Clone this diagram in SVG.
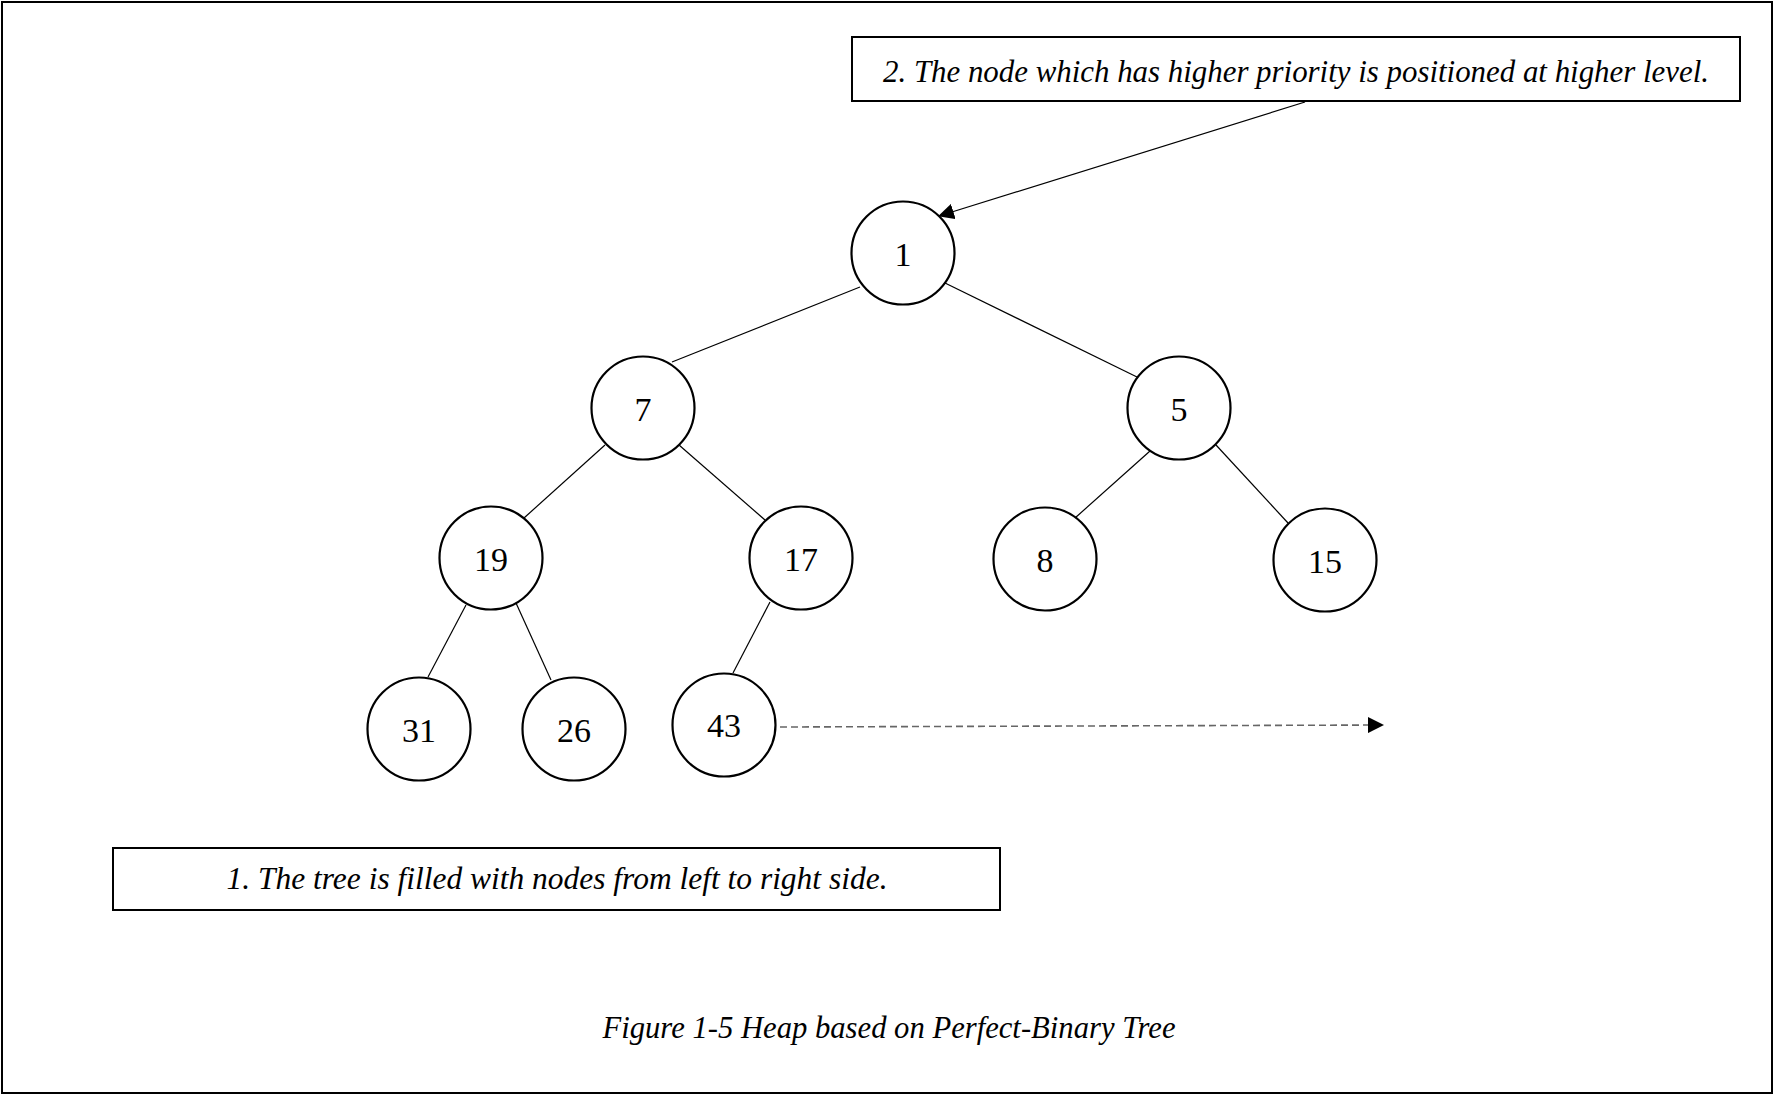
<svg xmlns="http://www.w3.org/2000/svg" width="1774" height="1096" viewBox="0 0 1774 1096">
<style>
.node circle{fill:#fff;stroke:#000;stroke-width:2.2}
.node text{font-family:"Liberation Serif","Times New Roman",serif;font-size:34px;text-anchor:middle}
.box rect{fill:#fff;stroke:#000;stroke-width:2}
.lbl{font-family:"Liberation Serif","Times New Roman",serif;font-style:italic;font-size:31px;text-anchor:middle}
.edge{stroke:#000;stroke-width:1.2;fill:none}
.dash{stroke:#666;stroke-width:1.6;stroke-dasharray:7,4;fill:none}
</style>
<defs>
<marker id="ah" markerWidth="16" markerHeight="16" refX="15" refY="8" orient="auto" markerUnits="userSpaceOnUse">
<path d="M0,0 L16,8 L0,16 Z" fill="#000"/>
</marker>
</defs>
<rect x="2" y="2" width="1770" height="1091" fill="#fff" stroke="#000" stroke-width="2"/>
<g id="connectors">
<line class="edge" x1="1305" y1="102" x2="939" y2="216" marker-end="url(#ah)"/>
<line class="edge" x1="860" y1="287" x2="672" y2="362"/>
<line class="edge" x1="945" y1="283" x2="1137" y2="377"/>
<line class="edge" x1="605" y1="445" x2="524" y2="518"/>
<line class="edge" x1="679" y1="445" x2="765" y2="520"/>
<line class="edge" x1="1150" y1="451" x2="1075" y2="518"/>
<line class="edge" x1="1216" y1="445" x2="1288" y2="523"/>
<line class="edge" x1="466" y1="605" x2="428" y2="677"/>
<line class="edge" x1="516" y1="603" x2="551" y2="680"/>
<line class="edge" x1="770" y1="602" x2="733" y2="673"/>
<line class="dash" x1="780" y1="727" x2="1383" y2="725" marker-end="url(#ah)"/>
</g>
<g id="note2" class="box">
<rect x="852" y="37" width="888" height="64"/>
<text class="lbl" x="1296" y="82" textLength="826" lengthAdjust="spacingAndGlyphs">2. The node which has higher priority is positioned at higher level.</text>
</g>
<g id="note1" class="box">
<rect x="113" y="848" width="887" height="62"/>
<text class="lbl" x="557" y="889" textLength="661" lengthAdjust="spacingAndGlyphs">1. The tree is filled with nodes from left to right side.</text>
</g>
<g id="n1" class="node"><circle cx="903" cy="253" r="51.5"/><text x="903" y="266">1</text></g>
<g id="n7" class="node"><circle cx="643" cy="408" r="51.5"/><text x="643" y="421">7</text></g>
<g id="n5" class="node"><circle cx="1179" cy="408" r="51.5"/><text x="1179" y="421">5</text></g>
<g id="n19" class="node"><circle cx="491" cy="558" r="51.5"/><text x="491" y="571">19</text></g>
<g id="n17" class="node"><circle cx="801" cy="558" r="51.5"/><text x="801" y="571">17</text></g>
<g id="n8" class="node"><circle cx="1045" cy="559" r="51.5"/><text x="1045" y="572">8</text></g>
<g id="n15" class="node"><circle cx="1325" cy="560" r="51.5"/><text x="1325" y="573">15</text></g>
<g id="n31" class="node"><circle cx="419" cy="729" r="51.5"/><text x="419" y="742">31</text></g>
<g id="n26" class="node"><circle cx="574" cy="729" r="51.5"/><text x="574" y="742">26</text></g>
<g id="n43" class="node"><circle cx="724" cy="725" r="51.5"/><text x="724" y="737">43</text></g>
<text id="caption" class="lbl" x="889" y="1038" textLength="573" lengthAdjust="spacingAndGlyphs">Figure 1-5 Heap based on Perfect-Binary Tree</text>
</svg>
